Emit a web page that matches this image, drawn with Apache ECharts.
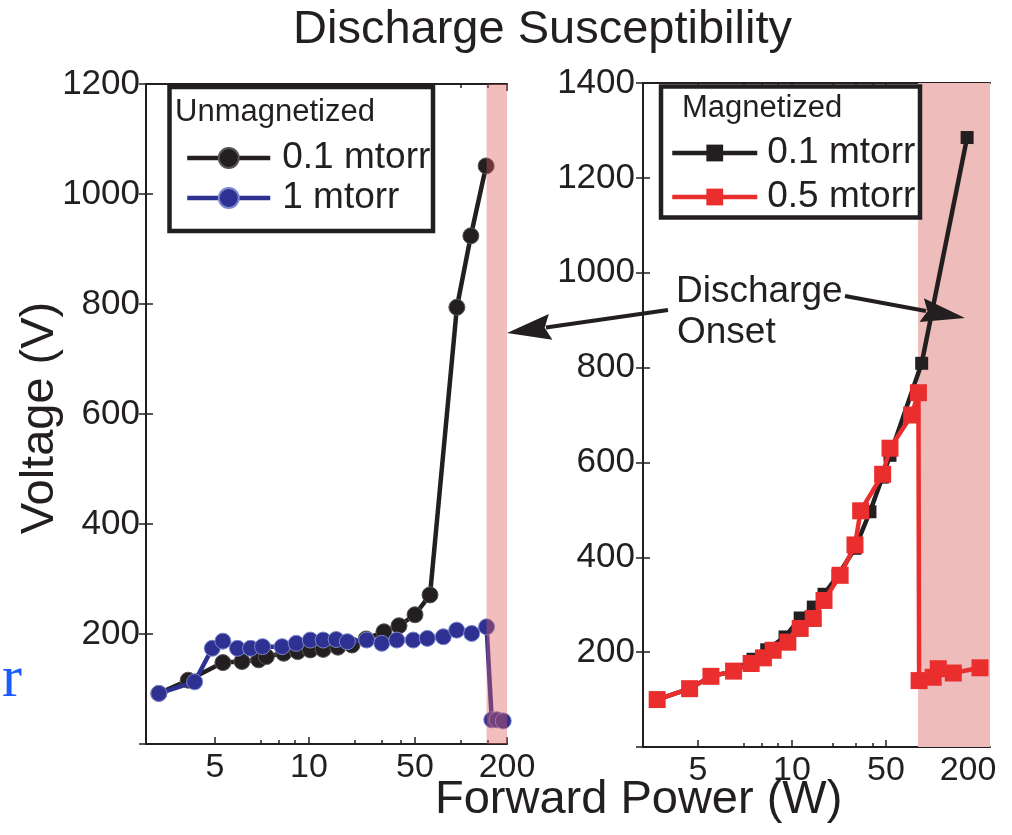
<!DOCTYPE html>
<html><head><meta charset="utf-8">
<script src="https://cdn.jsdelivr.net/npm/echarts@6/dist/echarts.min.js"></script>
<style>html,body{margin:0;padding:0;background:#fff}#c{width:1012px;height:835px}</style>
</head><body><div id="c"></div>
<script>
// ---------------- data ----------------
const X_TICKS = [5, 10, 50, 200];                 // labelled forward-power ticks (W)
const X_MINOR_TICKS = [7, 8, 9, 20, 30, 40, 100, 150];

// Unmagnetized, 0.1 mtorr (black circles)
const UNMAG_01_POWER = [3.3, 4.1, 5.3, 6.1, 6.9, 7.3, 8.3, 9.2, 10.2, 12.4, 15.5, 19.2, 23.8, 31.2, 39.2, 50, 62.7, 94, 116, 146];
const UNMAG_01_VOLT  = [92, 116, 148, 150, 153, 159, 165, 168, 171, 172, 176, 180, 191, 204, 215, 235, 271, 794, 924, 1051];
// Unmagnetized, 1 mtorr (blue circles)
const UNMAG_1_POWER = [3.3, 4.3, 4.9, 5.3, 5.9, 6.5, 7.1, 8.2, 9.1, 10.2, 12.4, 15.1, 17.9, 24, 30.2, 37.9, 48.7, 60.2, 76.6, 93.7, 117.5, 147, 159, 172, 189];
const UNMAG_1_VOLT  = [92, 113, 174, 187, 174, 174, 177, 177, 183, 189, 189, 190, 186, 189, 183, 189, 189, 192, 195, 207, 201, 213, 44, 44, 42];
// Magnetized, 0.1 mtorr (black squares)
const MAG_01_POWER = [3.7, 4.7, 5.5, 6.5, 7.5, 8.3, 9.5, 11.5, 14.4, 17.3, 22, 29.4, 38, 47, 53.5, 91.4, 197];
const MAG_01_VOLT  = [100, 123, 149, 160, 185, 205, 232, 272, 295, 322, 362, 419, 496, 569, 615, 809, 1285];
// Magnetized, 0.5 mtorr (red squares)
const MAG_05_POWER = [3.7, 4.7, 5.5, 6.5, 7.4, 8.1, 8.7, 9.7, 11.5, 14.4, 17.3, 22.8, 29.4, 32.4, 47.2, 53.5, 77.2, 86.5, 87.5, 111, 121, 156, 245];
const MAG_05_VOLT  = [100, 123, 149, 160, 176, 188, 204, 221, 250, 271, 309, 362, 426, 498, 575, 630, 700, 747, 140, 147, 165, 156, 167];

// Discharge-onset shaded power ranges (W)
const ONSET_UNMAG = [147, 200];
const ONSET_MAG = [86, 300];

// ---------------- axis scale (broken log axis of the original) ----------------
// breakpoints of the piecewise-log power axis: power -> axis unit
const SCALE_L = { powers: [3, 5, 10, 50, 200], units: [0, 69, 163, 269, 361], max: 361 };
const SCALE_R = { powers: [5, 10, 50, 200], units: [55, 149, 243, 325], max: 347 };
function makeScale(s) {
  return function (p) {
    let i = 0;
    while (i < s.powers.length - 2 && p > s.powers[i + 1]) i++;
    const a = s.powers[i], b = s.powers[i + 1];
    const u = s.units[i] + (s.units[i + 1] - s.units[i]) * Math.log(p / a) / Math.log(b / a);
    return Math.min(Math.max(u, 0), s.max);
  };
}
const fL = makeScale(SCALE_L), fR = makeScale(SCALE_R);
const pairs = (xs, ys, f) => xs.map((x, i) => [f(x), ys[i]]);

const FONT = 'Liberation Sans, Arial, Helvetica, sans-serif';
const INK = '#231f20';
const BLUE = '#2e3192';
const RED = '#ea2e2e';
const LW = 4.5;

function xAxes(grid, f, max) {
  const major = X_TICKS.map(f), minor = X_MINOR_TICKS.map(f);
  const fmt = (v) => { for (let i = 0; i < X_TICKS.length; i++) if (Math.abs(major[i] - v) < 0.5) return String(X_TICKS[i]); return ''; };
  const base = { type: 'value', gridIndex: grid, min: 0, max: max, splitLine: { show: false } };
  return [
    Object.assign({}, base, { position: 'bottom',
      axisLine: { show: true, lineStyle: { color: INK, width: 2 } },
      axisTick: { show: true, inside: true, length: 7, customValues: major, lineStyle: { color: INK, width: 1.5 } },
      axisLabel: { show: true, customValues: major, formatter: fmt, fontSize: 34, fontFamily: FONT, color: INK, margin: 7 } }),
    Object.assign({}, base, { position: 'bottom', axisLine: { show: false },
      axisTick: { show: true, inside: true, length: 4, customValues: minor, lineStyle: { color: INK, width: 1.5 } },
      axisLabel: { show: false } }),
    Object.assign({}, base, { position: 'top',
      axisLine: { show: true, lineStyle: { color: INK, width: 2 } },
      axisTick: { show: true, inside: true, length: 7, customValues: major, lineStyle: { color: INK, width: 1.5 } },
      axisLabel: { show: false } }),
    Object.assign({}, base, { position: 'top', axisLine: { show: false },
      axisTick: { show: true, inside: true, length: 4, customValues: minor, lineStyle: { color: INK, width: 1.5 } },
      axisLabel: { show: false } })
  ];
}
function yAxes(grid, max, margin) {
  const base = { type: 'value', gridIndex: grid, min: 0, max: max, interval: 200, splitLine: { show: false },
    axisLine: { show: true, lineStyle: { color: INK, width: 2 } },
    axisTick: { show: true, inside: true, length: 7, lineStyle: { color: INK, width: 1.5 } } };
  return [
    Object.assign({}, base, { position: 'left',
      axisLabel: { show: true, fontSize: 35, fontFamily: FONT, color: INK, margin: margin, formatter: (v) => v === 0 ? '' : String(v) } }),
    Object.assign({}, base, { position: 'right', axisLabel: { show: false } })
  ];
}

function shade(xIdx, yIdx, f, range, color, z) {
  return {
    type: 'custom', xAxisIndex: xIdx, yAxisIndex: yIdx, z: z, silent: true,
    data: [[f(range[0]), f(range[1])]],
    encode: { x: [0, 1] },
    renderItem: function (params, api) {
      const cs = params.coordSys;
      const a = api.coord([api.value(0), 0]), b = api.coord([api.value(1), 0]);
      return { type: 'rect', shape: { x: a[0], y: cs.y, width: b[0] - a[0], height: cs.height }, style: { fill: color } };
    }
  };
}

const legendText = { fontSize: 37, fontFamily: FONT, color: INK };

const option = {
  animation: false,
  backgroundColor: '#ffffff',
  grid: [
    { left: 146, top: 84, width: 361, height: 660 },
    { left: 643, top: 83, width: 347, height: 664 }
  ],
  xAxis: xAxes(0, fL, SCALE_L.max).concat(xAxes(1, fR, SCALE_R.max)),
  yAxis: yAxes(0, 1200, 6).concat(yAxes(1, 1400, 8)),
  legend: [
    { data: ['Unmagnetized|0.1 mtorr', 'Unmagnetized|1 mtorr'], orient: 'vertical', left: 185, top: 138,
      itemWidth: 83, itemHeight: 25, itemGap: 0, padding: 0, selectedMode: false, z: 10,
      lineStyle: { width: LW },
      formatter: (n) => n.split('|')[1], textStyle: Object.assign({ lineHeight: 40, padding: [0, 0, 0, 7] }, legendText) },
    { data: ['Magnetized|0.1 mtorr', 'Magnetized|0.5 mtorr'], orient: 'vertical', left: 670, top: 131,
      itemWidth: 85, itemHeight: 21, itemGap: 0, padding: 0, selectedMode: false, z: 10,
      lineStyle: { width: LW },
      formatter: (n) => n.split('|')[1], textStyle: Object.assign({ lineHeight: 44, padding: [0, 0, 0, 5] }, legendText) }
  ],
  series: [
    { name: 'Unmagnetized|0.1 mtorr', type: 'line', xAxisIndex: 0, yAxisIndex: 0, z: 3,
      data: pairs(UNMAG_01_POWER, UNMAG_01_VOLT, fL), symbol: 'circle', symbolSize: 16,
      lineStyle: { color: INK, width: LW }, itemStyle: { color: INK, borderColor: '#555', borderWidth: 1 } },
    { name: 'Unmagnetized|1 mtorr', type: 'line', xAxisIndex: 0, yAxisIndex: 0, z: 4,
      data: pairs(UNMAG_1_POWER, UNMAG_1_VOLT, fL), symbol: 'circle', symbolSize: 16,
      lineStyle: { color: BLUE, width: LW }, itemStyle: { color: BLUE, borderColor: '#7c86cc', borderWidth: 1 } },
    shade(0, 0, fL, ONSET_UNMAG, 'rgba(220,90,90,0.4)', 10),
    shade(4, 2, fR, ONSET_MAG, '#efbcbc', 1),
    { name: 'Magnetized|0.1 mtorr', type: 'line', xAxisIndex: 4, yAxisIndex: 2, z: 3,
      data: pairs(MAG_01_POWER, MAG_01_VOLT, fR), symbol: 'rect', symbolSize: 13,
      lineStyle: { color: INK, width: LW }, itemStyle: { color: INK } },
    { name: 'Magnetized|0.5 mtorr', type: 'line', xAxisIndex: 4, yAxisIndex: 2, z: 4,
      data: pairs(MAG_05_POWER, MAG_05_VOLT, fR), symbol: 'rect', symbolSize: 17,
      lineStyle: { color: RED, width: LW }, itemStyle: { color: RED } }
  ],
  graphic: { elements: [
    { type: 'text', x: 293, y: 30, z: 20, style: { text: 'Discharge Susceptibility', font: '47px ' + FONT, fill: INK, textAlign: 'left', textVerticalAlign: 'middle' } },
    { type: 'text', x: 435, y: 800, z: 20, style: { text: 'Forward Power (W)', font: '47px ' + FONT, fill: INK, textAlign: 'left', textVerticalAlign: 'middle' } },
    { type: 'text', x: 40, y: 418, rotation: Math.PI / 2, z: 20, style: { text: 'Voltage (V)', font: '47px ' + FONT, fill: INK, textAlign: 'center', textVerticalAlign: 'middle' } },
    { type: 'text', x: 2, y: 680, z: 20, style: { text: 'r', font: '60px Liberation Serif, DejaVu Serif, serif', fill: '#1a5cff', textAlign: 'left', textVerticalAlign: 'middle' } },
    { type: 'rect', z: 5, shape: { x: 169.5, y: 87, width: 263.5, height: 144 }, style: { fill: '#fff', stroke: INK, lineWidth: 4.5 } },
    { type: 'rect', z: 5, shape: { x: 661, y: 86.5, width: 259, height: 131 }, style: { fill: '#fff', stroke: INK, lineWidth: 4.5 } },
    { type: 'text', x: 175, y: 112, z: 20, style: { text: 'Unmagnetized', font: '31px ' + FONT, fill: INK, textAlign: 'left', textVerticalAlign: 'middle' } },
    { type: 'text', x: 682, y: 108, z: 20, style: { text: 'Magnetized', font: '31px ' + FONT, fill: INK, textAlign: 'left', textVerticalAlign: 'middle' } },
    { type: 'text', x: 676, y: 292, z: 20, style: { text: 'Discharge', font: '37px ' + FONT, fill: INK, textAlign: 'left', textVerticalAlign: 'middle' } },
    { type: 'text', x: 677, y: 333, z: 20, style: { text: 'Onset', font: '37px ' + FONT, fill: INK, textAlign: 'left', textVerticalAlign: 'middle' } },
    { type: 'line', z: 20, shape: { x1: 668, y1: 310, x2: 546, y2: 327.5 }, style: { stroke: INK, lineWidth: 4 } },
    { type: 'polygon', z: 20, shape: { points: [[507, 333], [548.8, 313.9], [544.7, 327.7], [552.4, 339.7]] }, style: { fill: INK } },
    { type: 'line', z: 20, shape: { x1: 845, y1: 296, x2: 926, y2: 311 }, style: { stroke: INK, lineWidth: 4 } },
    { type: 'polygon', z: 20, shape: { points: [[965, 318], [919.5, 321.9], [927.5, 311.2], [923.9, 298.3]] }, style: { fill: INK } }
  ] }
};
echarts.init(document.getElementById('c')).setOption(option);
</script></body></html>
